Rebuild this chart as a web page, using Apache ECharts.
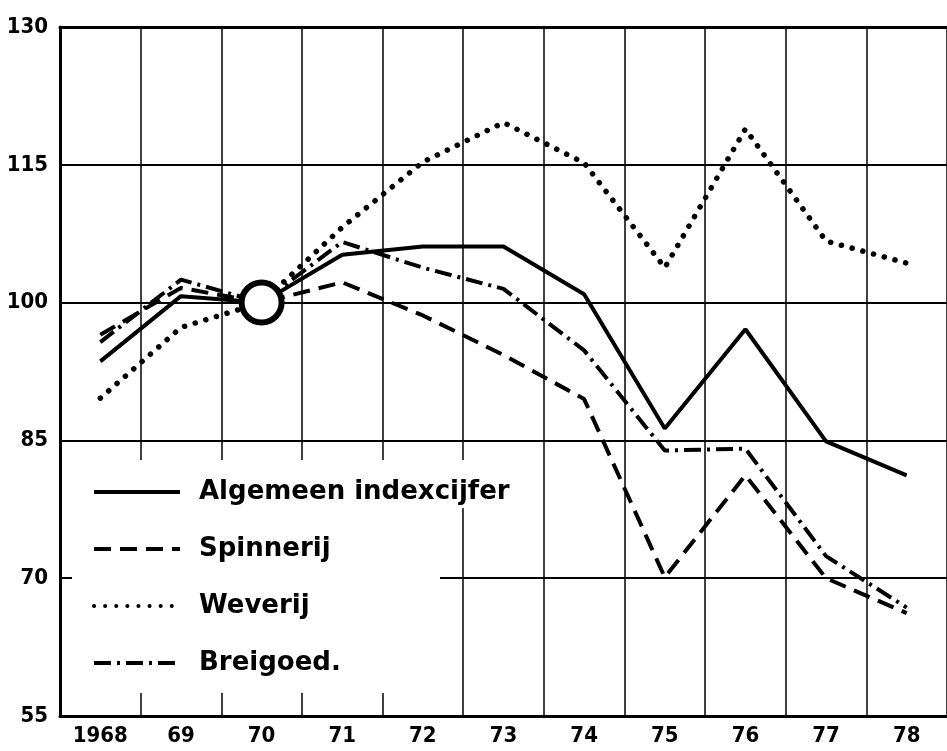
<!DOCTYPE html>
<html>
<head>
<meta charset="utf-8">
<script src="https://cdn.jsdelivr.net/npm/echarts@6/dist/echarts.min.js"></script>
<style>html,body{margin:0;padding:0;background:#fff}#c{width:947px;height:751px}</style>
</head>
<body>
<div id="c"></div>
<script>
const categories = ['1968','69','70','71','72','73','74','75','76','77','78'];
const algemeen  = [93.6, 100.7, 100, 105.2, 106.1, 106.1, 100.9, 86.3, 97.1, 84.9, 81.2];
const spinnerij = [96.5, 101.6, 100, 102.2, 98.6, 94.3, 89.5, 70.1, 81.2, 70.0, 66.2];
const weverij   = [89.6, 97.3, 100, 108.2, 115.3, 119.6, 115.2, 103.8, 118.9, 106.7, 104.3];
const breigoed  = [95.7, 102.5, 100, 106.6, 103.8, 101.5, 94.8, 83.9, 84.1, 72.4, 66.8];
const baseYear = ['70', 100];
const yTicks = [55, 70, 85, 100, 115, 130];

const chart = echarts.init(document.getElementById('c'));
const axisFont = {fontFamily: '"DejaVu Sans Condensed", "Liberation Sans Narrow", "Roboto Condensed", sans-serif', fontWeight: 'bold', fontSize: 22, color: '#000'};
const lineBase = {color: '#000', width: 4};
chart.setOption({
  animation: false,
  backgroundColor: '#fff',
  grid: {left: 60, top: 27, width: 896, bottom: 35, containLabel: false},
  xAxis: [{
    type: 'category', data: categories, boundaryGap: true,
    axisLine: {lineStyle: {color: '#000', width: 3}},
    axisTick: {show: false},
    axisLabel: Object.assign({margin: 9}, axisFont),
    splitLine: {show: true, interval: 0, lineStyle: {color: '#000', width: 1.5}}
  }, {
    type: 'category', data: categories, position: 'top', boundaryGap: true,
    axisLine: {lineStyle: {color: '#000', width: 3}},
    axisTick: {show: false}, axisLabel: {show: false}, splitLine: {show: false}
  }],
  yAxis: {
    type: 'value', min: yTicks[0], max: yTicks[yTicks.length-1], interval: 15,
    axisLine: {show: true, lineStyle: {color: '#000', width: 3}},
    axisTick: {show: false},
    axisLabel: Object.assign({margin: 12}, axisFont),
    splitLine: {show: true, lineStyle: {color: '#000', width: 2}}
  },
  graphic: [
    {type: 'rect', z: 1, shape: {x: 72, y: 460, width: 368, height: 233}, style: {fill: '#fff'}},
    {type: 'rect', z: 1, shape: {x: 440, y: 460, width: 95, height: 48}, style: {fill: '#fff'}}
  ],
  legend: {
    data: ['Algemeen indexcijfer', 'Spinnerij', 'Weverij', 'Breigoed.'],
    orient: 'vertical', left: 92, top: 479,
    itemWidth: 86, itemHeight: 20, itemGap: 31, padding: 0,
    itemStyle: {opacity: 0},
    lineStyle: {width: 4},
    textStyle: {fontFamily: 'DejaVu Sans', fontWeight: 'bold', fontSize: 26, color: '#000', padding: [0, 0, 0, 14], lineHeight: 24}
  },
  series: [
    {name: 'Algemeen indexcijfer', type: 'line', data: algemeen, symbol: 'none', z: 3,
     itemStyle: {color: '#000'},
     lineStyle: Object.assign({}, lineBase, {type: 'solid'})},
    {name: 'Spinnerij', type: 'line', data: spinnerij, symbol: 'none', z: 3,
     itemStyle: {color: '#000'},
     lineStyle: Object.assign({}, lineBase, {type: [17, 9]})},
    {name: 'Weverij', type: 'line', data: weverij, symbol: 'none', z: 3,
     itemStyle: {color: '#000'},
     lineStyle: Object.assign({}, lineBase, {width: 5.5, type: [0.1, 11], cap: 'round'})},
    {name: 'Breigoed.', type: 'line', data: breigoed, symbol: 'none', z: 3,
     itemStyle: {color: '#000'},
     lineStyle: Object.assign({}, lineBase, {type: [17, 6, 3, 6]})},
    {name: 'base', type: 'scatter', data: [baseYear], symbol: 'circle', symbolSize: 40, z: 5,
     itemStyle: {color: '#fff', borderColor: '#000', borderWidth: 6, opacity: 1}}
  ]
});
</script>
</body>
</html>
